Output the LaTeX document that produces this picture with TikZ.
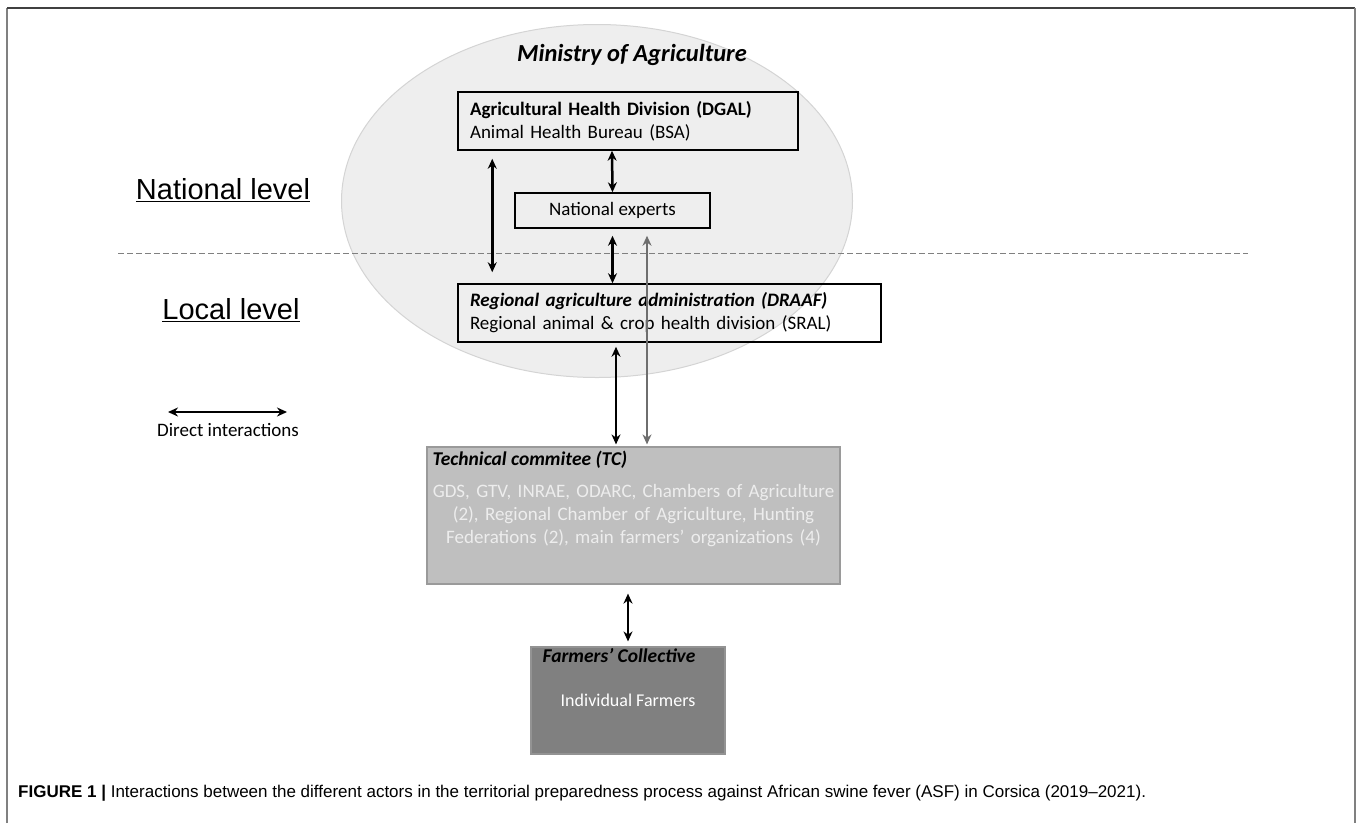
\documentclass[tikz,border=0pt]{standalone}
\usepackage{fontspec}
\setmainfont{Carlito}
\newfontfamily\arialfont[Ligatures=TeX]{Liberation Sans}
\usetikzlibrary{arrows.meta,shapes.geometric}
\definecolor{ellfill}{HTML}{EEEEEE}
\definecolor{elldraw}{HTML}{D4D4D4}
\definecolor{tcfill}{HTML}{BFBFBF}
\definecolor{tcdraw}{HTML}{9A9A9A}
\definecolor{fcfill}{HTML}{808080}
\definecolor{linkgray}{HTML}{6E6E6E}
\tikzset{
  box/.style={draw, line width=1.5pt, rectangle, inner sep=0pt, font=\fontsize{19}{23}\selectfont},
  link/.style={line width=2.5pt, {Stealth[length=10pt,width=9pt]}-{Stealth[length=10pt,width=9pt]}},
  level/.style={font=\arialfont\fontsize{29}{34}\selectfont}
}
\begin{document}
\begin{tikzpicture}[x=1pt,y=-1pt]
      \useasboundingbox (0,0) rectangle (1360,823);
      % frame
      \draw[gray, line width=1.6pt] (7,823) -- (7,8);
      \draw[black!75, line width=1.6pt] (7,8) -- (1355,8);
      \draw[gray, line width=2.4pt] (1355,8) -- (1355,823);
      % ministry ellipse and level line
      \node[ellipse, draw=elldraw, fill=ellfill, line width=1pt,
        minimum width=511pt, minimum height=353pt] (ministry) at (597,201) {};
      \node[font=\bfseries\itshape\fontsize{24.5}{29}\selectfont] (ministrytitle) at (632,55) {Ministry of Agriculture};
      \draw[gray, dashed, dash pattern=on 6pt off 3pt, line width=0.9pt] (118,253) coordinate (lvlL) -- (1248,253) coordinate (lvlR);
      \node[level] (national) at (223,190) {\underline{National level}};
      \node[level] (local) at (231,310) {\underline{Local level}};
      % actors
      \node[box, minimum width=340pt, minimum height=58pt, align=left, text width=316pt] (dgal) at (628,121)
        {\textbf{Agricultural Health Division (DGAL)}\\Animal Health Bureau (BSA)};
      \node[box, minimum width=195pt, minimum height=35pt] (experts) at (612.5,210.5) {National experts};
      \node[box, minimum width=423pt, minimum height=58pt, align=left, text width=399pt] (draaf) at (669.5,313)
        {\textbf{\textit{Regional agriculture administration (DRAAF)}}\\Regional animal \& crop health division (SRAL)};
      \node[box, draw=tcdraw, fill=tcfill, line width=1.2pt, minimum width=413pt, minimum height=137pt,
        align=center, text width=409pt, text=white!93!black] (tc) at (633.5,515.5)
        {GDS, GTV, INRAE, ODARC, Chambers of Agriculture\\(2), Regional Chamber of Agriculture, Hunting\\Federations (2), main farmers' organizations (4)};
      \node[anchor=north west, inner sep=0pt, font=\bfseries\itshape\fontsize{19.5}{23}\selectfont] (tctitle)
        at ([xshift=6pt,yshift=-4pt]tc.north west) {Technical commitee (TC)};
      \node[box, draw=fcfill!85!white, fill=fcfill, line width=1.2pt, minimum width=194pt, minimum height=107pt,
        font=\fontsize{18}{22}\selectfont, text=white] (farmers) at (628,700.5) {Individual Farmers};
      \node[anchor=north west, inner sep=0pt, font=\bfseries\itshape\fontsize{19.5}{23}\selectfont] (fctitle)
        at ([xshift=12pt,yshift=-2pt]farmers.north west) {Farmers’ Collective};
      % legend
      \coordinate (legL) at (168,412);
      \coordinate (legR) at (287,412);
      \draw[link] (legL) -- (legR);
      \node[font=\fontsize{19}{23}\selectfont] (legend) at (228,430) {Direct interactions};
      % interactions
      \begin{scope}[link]
        \draw ([xshift=35pt,yshift=-8pt]dgal.south west) -- ([xshift=35pt,yshift=11pt]draaf.north west);
        \draw ([xshift=-16pt]dgal.south) -- (experts.north);
        \draw ([yshift=-7pt]experts.south) -- (draaf.north -| experts.south);
        \draw ([yshift=-4pt]draaf.south -| 616,0) -- ([yshift=2pt]tc.north -| 616,0);
        \draw[linkgray, line width=1.8pt] ([xshift=34.5pt,yshift=-7pt]experts.south) -- ([yshift=2pt]tc.north -| 647,0);
        \draw ([yshift=-9pt]tc.south -| farmers.north) -- ([yshift=5pt]farmers.north);
      \end{scope}
      % caption
      \node[anchor=west, inner sep=0pt, font=\arialfont\fontsize{17}{20}\selectfont] (caption) at (18,793)
        {\textbf{FIGURE 1 |} Interactions between the different actors in the territorial preparedness process against African swine fever (ASF) in Corsica (2019--2021).};
    \end{tikzpicture}
\end{document}
